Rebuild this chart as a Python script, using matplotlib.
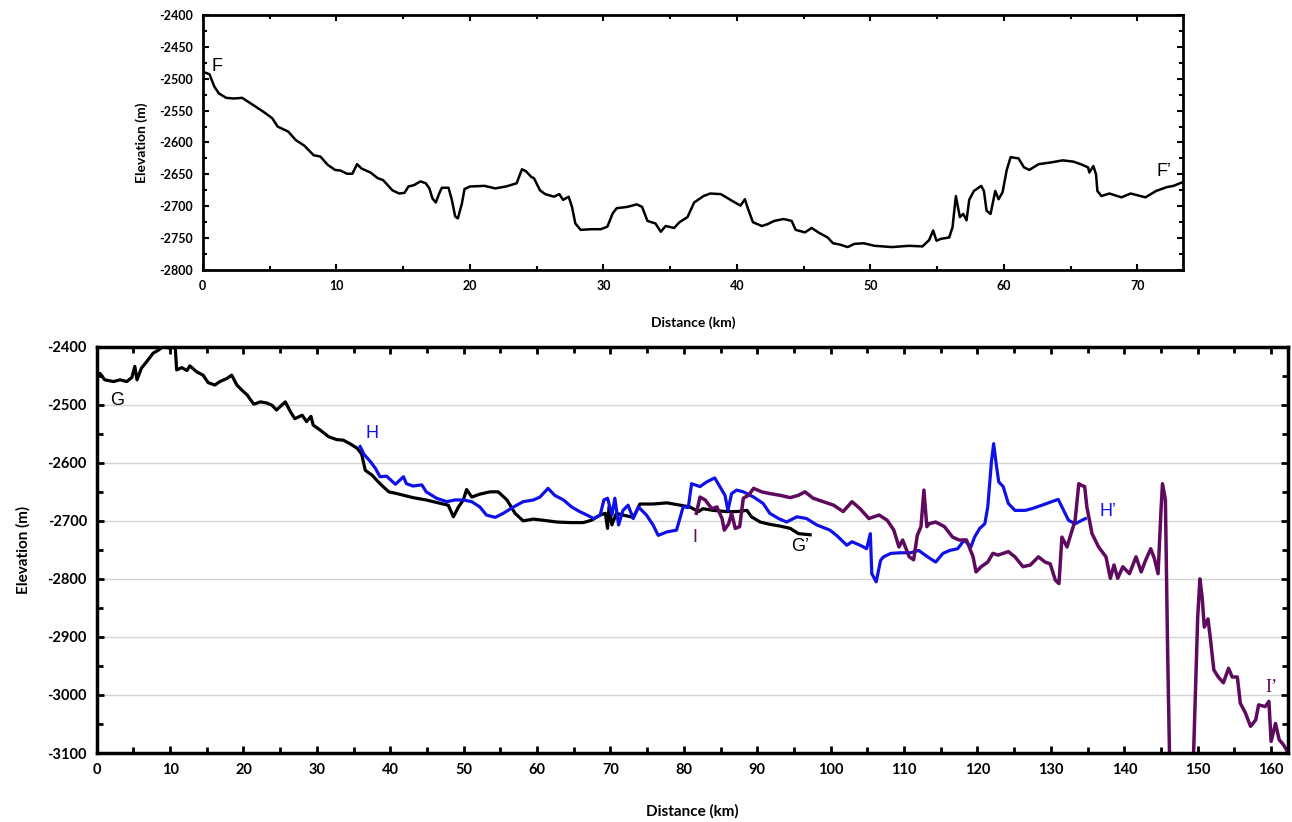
import matplotlib.pyplot as plt
from matplotlib.ticker import MultipleLocator

plt.rcParams['axes.unicode_minus'] = False

# profile F-F' (top panel)
f_dist = [0, 0.5, 0.85, 1.2, 1.75, 2.3, 2.95, 3.75, 4.55, 5.2, 5.6, 6.4, 6.95, 7.6, 8.3, 8.8, 9.35, 9.9,
          10.3, 10.8, 11.2, 11.55, 11.9, 12.55, 13.1, 13.5, 14.2, 14.7, 15.1, 15.4, 15.8, 16.3, 16.7, 16.97,
          17.2, 17.45, 17.7, 17.9, 18.4, 18.65, 18.9, 19.1, 19.4, 19.6, 20.0, 21.1, 21.9, 22.7, 23.5, 23.9,
          24.2, 24.6, 24.8, 25.25, 25.65, 26.3, 26.7, 26.98, 27.4, 27.65, 27.9, 28.3, 29.1, 29.8, 30.3, 30.7,
          31.0, 31.8, 32.5, 32.9, 33.3, 33.9, 34.3, 34.66, 35.3, 35.7, 36.3, 36.8, 37.5, 38.0, 38.8, 39.6,
          40.27, 40.6, 40.8, 41.2, 41.87, 42.3, 42.8, 43.5, 44.1, 44.4, 45.1, 45.6, 46.1, 46.8, 47.2, 47.7,
          48.3, 48.8, 49.5, 50.3, 51.6, 52.9, 53.9, 54.4, 54.7, 54.95, 55.3, 55.9, 56.15, 56.4, 56.7, 56.95,
          57.2, 57.4, 57.75, 58.3, 58.5, 58.7, 59.0, 59.35, 59.6, 59.9, 60.2, 60.5, 61.1, 61.5, 61.9, 62.6,
          63.6, 64.4, 65.2, 65.75, 66.3, 66.4, 66.7, 66.9, 67.0, 67.3, 67.9, 68.8, 69.5, 70.6, 71.4, 72.2,
          72.7, 73.3]
f_elev = [-2489, -2493, -2512, -2523, -2530, -2531, -2530, -2541, -2552, -2562, -2575, -2583, -2596, -2605,
          -2620, -2622, -2635, -2643, -2644, -2649, -2649, -2634, -2641, -2647, -2656, -2659, -2675, -2680,
          -2679, -2669, -2667, -2661, -2664, -2672, -2688, -2694, -2680, -2671, -2671, -2690, -2716, -2719,
          -2696, -2673, -2669, -2668, -2672, -2669, -2664, -2642, -2645, -2654, -2656, -2675, -2681, -2685,
          -2681, -2690, -2685, -2701, -2727, -2737, -2736, -2736, -2732, -2711, -2703, -2701, -2697, -2701,
          -2723, -2727, -2740, -2731, -2734, -2725, -2717, -2694, -2684, -2680, -2681, -2691, -2699, -2689,
          -2702, -2725, -2731, -2728, -2723, -2720, -2723, -2737, -2741, -2734, -2741, -2749, -2758, -2760,
          -2764, -2759, -2758, -2762, -2764, -2762, -2763, -2753, -2738, -2754, -2751, -2749, -2733, -2684,
          -2717, -2712, -2722, -2690, -2676, -2668, -2676, -2707, -2712, -2676, -2689, -2678, -2644, -2623,
          -2625, -2639, -2643, -2634, -2631, -2628, -2630, -2634, -2639, -2647, -2637, -2650, -2676, -2684,
          -2680, -2686, -2680, -2686, -2676, -2670, -2668, -2663]

# profile G-G' (bottom panel, black)
g_dist = [0, 0.45, 1.1, 2.3, 3.2, 4.1, 4.8, 5.2, 5.5, 6.1, 6.8, 7.7, 8.4, 9.1, 10.0, 10.7, 10.9, 11.6, 12.3,
          12.7, 13.6, 14.5, 15.2, 16.1, 16.8, 17.7, 18.4, 19.1, 19.8, 20.5, 21.4, 22.3, 23.2, 23.9, 24.5,
          25.7, 26.4, 27.0, 28.0, 28.6, 29.2, 29.5, 30.5, 31.6, 32.7, 33.6, 34.5, 35.5, 36.1, 36.6, 37.5,
          38.6, 39.8, 40.9, 43.1, 44.9, 47.2, 47.9, 48.6, 49.3, 49.95, 50.4, 51.1, 52.2, 53.6, 54.7, 55.9,
          57.0, 58.1, 59.5, 60.85, 62.7, 64.5, 66.3, 67.4, 68.6, 69.3, 69.6, 69.8, 70.2, 70.8, 71.7, 73.1,
          73.6, 74.0, 75.8, 77.7, 79.5, 80.8, 82.0, 82.6, 84.0, 85.8, 87.2, 88.6, 89.2, 90.4, 91.7, 93.1,
          94.5, 95.6, 97.2]
g_elev = [-2449, -2446, -2457, -2460, -2457, -2460, -2453, -2434, -2457, -2437, -2426, -2411, -2406, -2399,
          -2403, -2399, -2440, -2436, -2441, -2433, -2443, -2449, -2462, -2466, -2460, -2455, -2449, -2466,
          -2475, -2483, -2499, -2495, -2497, -2501, -2509, -2495, -2512, -2524, -2518, -2529, -2520, -2535,
          -2544, -2555, -2560, -2561, -2567, -2575, -2585, -2613, -2621, -2636, -2650, -2653, -2660, -2664,
          -2671, -2673, -2693, -2676, -2664, -2646, -2659, -2654, -2650, -2650, -2664, -2687, -2700, -2697,
          -2699, -2702, -2703, -2703, -2699, -2690, -2687, -2713, -2676, -2707, -2687, -2690, -2694, -2682,
          -2671, -2671, -2669, -2673, -2676, -2684, -2679, -2682, -2684, -2684, -2682, -2693, -2702, -2706,
          -2709, -2713, -2722, -2724]

# profile H-H' (blue)
h_dist = [35.9, 36.4, 37.3, 38.0, 38.6, 39.5, 40.7, 41.8, 42.2, 43.1, 44.3, 44.9, 46.3, 47.7, 48.8, 49.95,
          51.1, 52.2, 53.1, 54.3, 55.4, 56.8, 58.1, 59.5, 60.4, 61.5, 62.4, 63.6, 64.7, 65.8, 66.8, 67.7,
          68.6, 69.1, 69.6, 70.2, 70.6, 71.1, 71.7, 72.4, 73.1, 73.8, 74.9, 75.8, 76.5, 77.7, 79.0, 79.9,
          80.6, 81.05, 82.2, 83.1, 84.2, 84.9, 85.6, 86.0, 86.5, 87.2, 88.1, 89.5, 90.8, 91.7, 92.9, 94.0,
          95.4, 96.7, 98.1, 99.9, 100.8, 101.7, 102.2, 102.9, 104.0, 104.9, 105.4, 105.6, 106.2, 106.8,
          107.2, 108.2, 109.5, 110.9, 112.0, 113.2, 114.3, 115.3, 116.2, 117.3, 118.2, 119.1, 119.6, 120.3,
          121.0, 121.4, 121.9, 122.2, 122.6, 122.9, 123.5, 124.2, 125.1, 126.5, 127.4, 128.8, 130.1, 131.0,
          131.5, 132.4, 133.3, 134.7]
h_elev = [-2572, -2585, -2598, -2610, -2624, -2623, -2637, -2624, -2636, -2640, -2638, -2650, -2661, -2667,
          -2664, -2664, -2667, -2676, -2690, -2694, -2687, -2676, -2667, -2664, -2659, -2644, -2656, -2664,
          -2676, -2684, -2690, -2696, -2690, -2664, -2661, -2690, -2661, -2707, -2682, -2673, -2696, -2676,
          -2690, -2707, -2725, -2719, -2716, -2676, -2677, -2636, -2641, -2633, -2626, -2641, -2656, -2682,
          -2653, -2647, -2650, -2659, -2670, -2687, -2696, -2702, -2693, -2696, -2707, -2716, -2725, -2736,
          -2742, -2736, -2742, -2748, -2722, -2791, -2805, -2768, -2762, -2756, -2755, -2755, -2751, -2762,
          -2771, -2756, -2751, -2748, -2733, -2745, -2728, -2713, -2705, -2676, -2598, -2567, -2607, -2633,
          -2641, -2670, -2682, -2682, -2679, -2673, -2667, -2663, -2676, -2699, -2705, -2696]

# profile I-I' (purple)
i_dist = [81.7, 82.2, 82.9, 83.8, 84.5, 85.2, 85.5, 86.1, 86.5, 87.0, 87.6, 88.1, 88.8, 89.5, 90.6, 91.7,
          93.1, 94.5, 95.6, 96.5, 97.6, 99.0, 100.4, 101.7, 102.9, 104.0, 105.2, 106.6, 107.7, 108.6, 109.3,
          109.8, 110.7, 111.3, 111.8, 112.3, 112.7, 113.1, 113.4, 114.3, 115.5, 116.6, 117.5, 118.5, 119.4,
          119.8, 120.5, 121.4, 122.1, 122.8, 124.2, 125.1, 126.2, 127.2, 128.3, 129.2, 129.9, 130.6, 131.1,
          131.5, 132.2, 132.6, 133.3, 133.8, 134.2, 134.6, 134.9, 135.6, 136.5, 137.5, 138.1, 138.6, 139.1,
          139.8, 140.7, 141.6, 142.3, 142.9, 143.6, 144.1, 144.6, 145.0, 145.2, 145.6, 145.9, 146.3, 149.2,
          150.0, 150.3, 150.6, 150.9, 151.4, 151.7, 152.2, 152.8, 153.5, 154.2, 154.7, 155.4, 155.8, 156.5,
          157.2, 157.9, 158.3, 159.2, 159.7, 160.0, 160.6, 161.1, 161.7, 162.2]
i_elev = [-2687, -2659, -2664, -2679, -2676, -2696, -2716, -2705, -2687, -2713, -2710, -2661, -2656, -2644,
          -2650, -2653, -2656, -2660, -2656, -2650, -2661, -2667, -2673, -2684, -2667, -2679, -2696, -2690,
          -2699, -2716, -2745, -2733, -2762, -2767, -2725, -2710, -2647, -2710, -2705, -2702, -2710, -2728,
          -2733, -2733, -2762, -2788, -2779, -2771, -2756, -2759, -2753, -2762, -2779, -2776, -2762, -2771,
          -2774, -2802, -2808, -2728, -2745, -2728, -2699, -2636, -2639, -2641, -2676, -2722, -2745, -2762,
          -2799, -2776, -2799, -2779, -2791, -2762, -2788, -2768, -2748, -2765, -2791, -2682, -2636, -2664,
          -2923, -3200, -3200, -2866, -2800, -2831, -2883, -2869, -2900, -2957, -2969, -2979, -2954, -2969,
          -2969, -3014, -3031, -3054, -3043, -3017, -3020, -3011, -3080, -3049, -3077, -3086, -3097]

tick_font = 'Lato'
label_font = 'Liberation Sans'
blue = '#1010e8'
purple = '#5e0a5e'

fig = plt.figure(figsize=(12.92, 8.22), dpi=100)

# top panel
ax1 = fig.add_axes([0.157, 0.6715, 0.7585, 0.3103])
ax1.plot(f_dist, f_elev, color='black', lw=1.8)
ax1.set_xlim(0, 73.4)
ax1.set_ylim(-2800, -2400)
ax1.xaxis.set_major_locator(MultipleLocator(10))
ax1.xaxis.set_minor_locator(MultipleLocator(5))
ax1.yaxis.set_major_locator(MultipleLocator(50))
ax1.yaxis.set_minor_locator(MultipleLocator(25))
ax1.tick_params(which='both', direction='in', top=True, right=True, width=1.5)
ax1.tick_params(which='major', length=4, pad=7)
ax1.tick_params(which='minor', length=3)
for lab in ax1.get_xticklabels() + ax1.get_yticklabels():
    lab.set_fontfamily(tick_font)
    lab.set_fontweight('bold')
    lab.set_fontsize(9)
for sp in ax1.spines.values():
    sp.set_linewidth(2)
ax1.set_xlabel('Distance (km)', fontfamily=tick_font, fontweight='bold', fontsize=10, labelpad=18)
ax1.set_ylabel('Elevation (m)', fontfamily=tick_font, fontweight='bold', fontsize=10, labelpad=8)
ax1.text(1.05, -2481, 'F', fontfamily=label_font, fontsize=13, ha='center', va='center')
ax1.text(72.0, -2646, 'F\u2019', fontfamily=label_font, fontsize=13, ha='center', va='center')

# bottom panel
ax2 = fig.add_axes([0.0748, 0.0839, 0.9221, 0.4943])
ax2.plot(g_dist, g_elev, color='black', lw=2.3)
ax2.plot(h_dist, h_elev, color=blue, lw=2.3)
ax2.plot(i_dist, i_elev, color=purple, lw=2.5)
ax2.set_xlim(0, 162.3)
ax2.set_ylim(-3100, -2400)
ax2.xaxis.set_major_locator(MultipleLocator(10))
ax2.xaxis.set_minor_locator(MultipleLocator(5))
ax2.yaxis.set_major_locator(MultipleLocator(100))
ax2.yaxis.set_minor_locator(MultipleLocator(50))
ax2.grid(True, axis='y', which='major', color='#d4d4d4', lw=1)
ax2.set_axisbelow(True)
ax2.tick_params(which='both', direction='in', top=True, right=True, width=2)
ax2.tick_params(which='major', length=5, pad=7)
ax2.tick_params(which='minor', length=4)
for lab in ax2.get_xticklabels() + ax2.get_yticklabels():
    lab.set_fontfamily(tick_font)
    lab.set_fontweight('bold')
    lab.set_fontsize(10.5)
for sp in ax2.spines.values():
    sp.set_linewidth(2.5)
ax2.set_xlabel('Distance (km)', fontfamily=tick_font, fontweight='bold', fontsize=11, labelpad=20)
ax2.set_ylabel('Elevation (m)', fontfamily=tick_font, fontweight='bold', fontsize=11, labelpad=12)
ax2.text(2.8, -2492, 'G', color='black', fontfamily=label_font, fontsize=13, ha='center', va='center')
ax2.text(37.5, -2549, 'H', color=blue, fontfamily=label_font, fontsize=13, ha='center', va='center')
ax2.text(81.5, -2728, 'I', color=purple, fontfamily=label_font, fontsize=13, ha='center', va='center')
ax2.text(95.8, -2745, 'G\u2019', color='black', fontfamily=label_font, fontsize=13, ha='center', va='center')
ax2.text(137.8, -2684, 'H\u2019', color=blue, fontfamily=label_font, fontsize=13, ha='center', va='center')
ax2.text(160.1, -2987, 'I\u2019', color=purple, fontfamily='Liberation Serif', fontsize=13,
         ha='center', va='center')

fig.savefig('out.png', dpi=100)
